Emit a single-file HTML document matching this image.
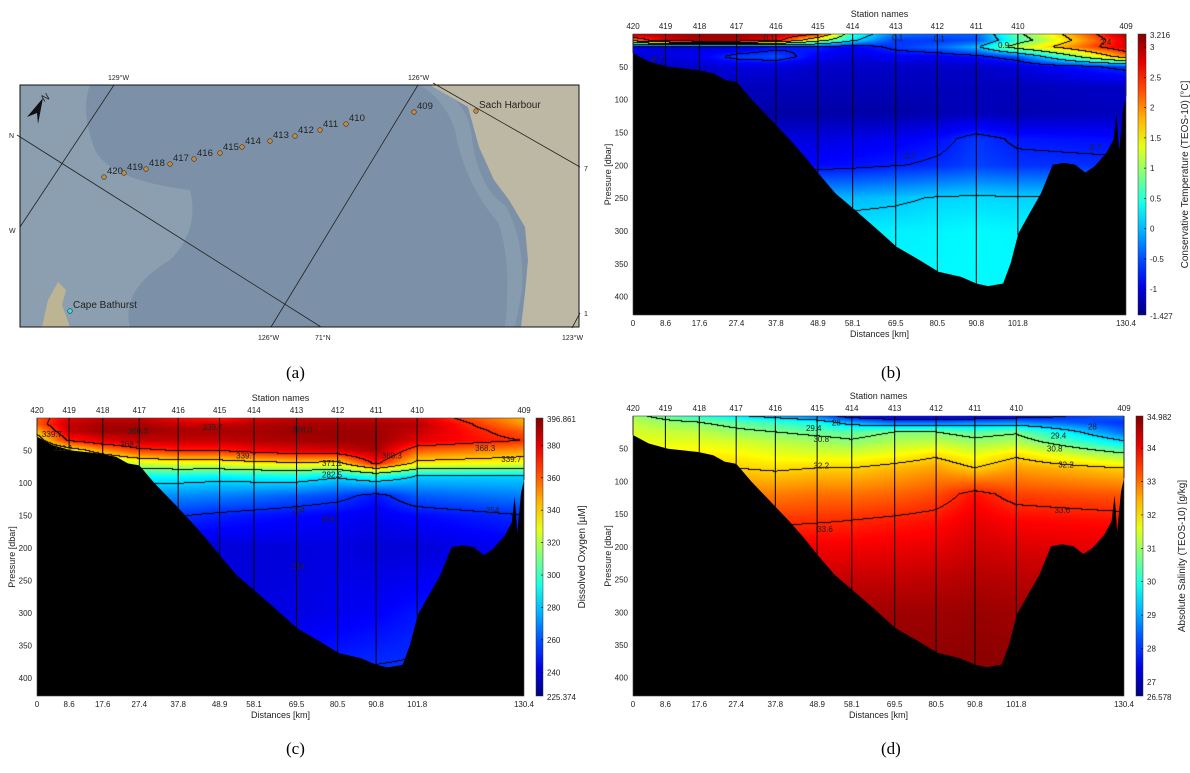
<!DOCTYPE html>
<html><head><meta charset="utf-8"><style>
html,body{margin:0;padding:0;background:#fff;width:1190px;height:773px;overflow:hidden;font-family:"Liberation Sans",sans-serif}
canvas{position:absolute}
#ov{position:absolute;left:0;top:0}
text{font-family:"Liberation Sans",sans-serif;fill:#222}
.pl{font-family:"Liberation Serif",serif;font-size:17px;fill:#000}
</style></head><body>
<canvas id="cb"></canvas>
<canvas id="cc"></canvas>
<canvas id="cd"></canvas>
<svg id="ov" width="1190" height="773" xmlns="http://www.w3.org/2000/svg">
<g id="map">
 <rect x="20" y="85" width="559" height="242" fill="#7c91a8"/>
 <path d="M20,85 L90,85 Q80,110 95,150 Q110,180 190,190 Q200,230 170,260 Q120,290 130,327 L20,327 Z" fill="#8ea3b2" opacity="0.8"/>
 <path d="M420,85 L430,85 Q470,100 472,140 Q480,190 505,205 Q525,240 522,290 L515,327 L505,327 Q512,260 498,222 Q465,185 455,130 Q445,100 420,85 Z" fill="#8b9fb0" opacity="0.8"/>
 <path d="M430,85 L579,85 L579,327 L521,327 L525,293 L528,260 L525,227 L509,200 L494,180 L479,147 L468,107 Z" fill="#bdb8a3"/>
 <path d="M42,327 L48,300 L58,282 L66,290 L62,305 L70,327 Z" fill="#bcb493"/>
 <g stroke="#222" stroke-width="0.8" fill="none">
  <line x1="114" y1="85" x2="20" y2="227"/><line x1="418" y1="85" x2="271" y2="327"/>
  <line x1="17" y1="135" x2="321" y2="327"/><line x1="433" y1="83" x2="580" y2="167"/>
  <line x1="580" y1="313" x2="572" y2="328"/>
 </g>
 <g font-size="7">
  <text x="108" y="80">129°W</text>
  <text x="408" y="80">126°W</text>
  <text x="258" y="340">126°W</text>
  <text x="315" y="340">71°N</text>
  <text x="562" y="340">123°W</text>
  <text x="9" y="138">N</text>
  <text x="9" y="233">W</text>
  <text x="584" y="171">7</text>
  <text x="584" y="316">1</text>
 </g>
 <rect x="20" y="85" width="559" height="242" fill="none" stroke="#111" stroke-width="1"/>
 <g><path d="M43,98 L27,117 L37,113 L38,124 Z" fill="#111"/><text x="42" y="101" font-size="10" transform="rotate(-30 45 98)">N</text></g>
 <g id="mapst"></g>
</g>
<g id="axes"></g>
<text class="pl" x="286" y="378">(a)</text>
<text class="pl" x="881" y="378">(b)</text>
<text class="pl" x="286" y="754">(c)</text>
<text class="pl" x="881" y="754">(d)</text>
</svg>
<script>
// ---- shared data ----
const stationNames=["420","419","418","417","416","415","414","413","412","411","410","409"];
const stationDist=[0,8.6,17.6,27.4,37.8,48.9,58.1,69.5,80.5,90.8,101.8,130.4];
const bathyKm=[0,4.2,9.3,17.3,21.3,24.4,27.4,31.4,37.4,41.5,45.5,49,53.6,58.1,63.7,69.7,75.7,80.8,86.8,90.8,93.9,97.9,99.9,101.9,104.9,107.9,111,114,117,119.6,122,125.1,127.1,127.9,128.6,129.6,130.4];
const bathyDepth=[29,42,50,55,60,70,73,100,136,161,187,212,243,265,293,324,344,362,370,380,384,380,349,304,273,243,199,196,199,211,202,182,161,121,177,116,95];
// temperature
const tDepths=[0,10,20,35,50,80,120,160,200,250,300,400];
const tVals=[
[3.0,3.0,3.1,3.1,3.0,2.5,0.5,-0.3,-0.4,-0.4,0.8,3.0],
[2.0,2.8,3.0,3.0,2.6,1.2,0.2,-0.6,-0.6,-0.5,0.6,2.8],
[-0.9,-1.0,-1.0,-1.0,-0.8,-0.7,-0.9,-0.6,-0.4,0.0,1.2,2.8],
[-1.0,-1.0,-0.9,-0.6,-0.5,-0.9,-1.0,-0.9,-0.9,-0.8,-0.5,2.0],
[-1.1,-1.1,-1.1,-1.0,-1.0,-1.1,-1.1,-1.1,-1.1,-1.1,-1.0,-0.6],
[-1.15,-1.15,-1.15,-1.15,-1.15,-1.15,-1.15,-1.15,-1.15,-1.15,-1.15,-1.1],
[-1.2,-1.2,-1.2,-1.2,-1.25,-1.25,-1.25,-1.25,-1.2,-1.15,-1.2,-1.15],
[-1.0,-1.0,-1.0,-1.0,-1.0,-1.0,-0.95,-0.9,-0.8,-0.6,-0.75,-0.8],
[-0.85,-0.85,-0.85,-0.85,-0.85,-0.82,-0.78,-0.72,-0.65,-0.55,-0.62,-0.65],
[0.0,0.0,0.0,0.0,0.0,0.0,0.0,0.05,0.12,0.15,0.12,0.1],
[0.25,0.25,0.25,0.25,0.25,0.25,0.25,0.25,0.27,0.3,0.28,0.25],
[0.3,0.3,0.3,0.3,0.3,0.3,0.3,0.3,0.3,0.3,0.3,0.3]];
const tLevels=[-0.7,0.1,0.9,1.7,2.4];
const tTicks=[-1,-0.5,0,0.5,1,1.5,2,2.5,3];
// oxygen
const oDepths=[0,10,20,35,50,70,90,120,150,200,300,400];
const oVals=[
[360,380,385,385,375,370,380,385,385,385,380,345],
[360,385,390,390,385,385,388,390,390,390,388,350],
[345,385,392,392,390,390,390,392,392,392,385,360],
[330,370,380,385,385,385,388,390,392,392,380,368],
[315,330,350,365,370,370,375,380,382,390,360,350],
[300,305,315,325,330,330,335,338,335,372,335,330],
[285,285,288,290,290,288,290,292,285,295,282,282],
[270,270,272,272,270,268,266,262,258,250,262,268],
[262,262,260,258,255,252,250,248,246,244,248,254],
[250,250,248,245,242,240,240,241,242,240,240,245],
[248,248,248,248,246,244,242,242,244,246,250,252],
[250,250,250,250,250,250,250,252,254,256,256,256]];
const oLevels=[254,282.5,311.1,339.7,368.3];
const oTicks=[240,260,280,300,320,340,360,380];
// salinity
const sDepths=[0,10,25,40,60,80,120,160,200,250,300,400];
const sVals=[
[31,30.5,30,29.5,29,28.5,27.5,27.2,27.2,27.2,27.5,28.5],
[31.3,31,30.8,30.5,30.2,29.8,29,28.5,28.5,28.7,28.8,28],
[31.5,31.4,31.3,31,30.8,30.6,30.5,30.8,30.8,30.5,30.7,28.5],
[31.7,31.6,31.6,31.5,31.3,31.1,30.9,31.2,31.3,31,31.2,29.5],
[32,32,32,31.9,31.7,31.6,31.6,31.8,32.1,31.7,32.1,31],
[32.4,32.4,32.3,32.2,32.1,32.2,32.2,32.4,32.6,32.2,32.6,32.2],
[33,33,33,32.9,32.9,33,33,33.1,33.3,33.8,33.4,33.2],
[33.5,33.5,33.5,33.5,33.5,33.55,33.6,33.7,33.8,34.1,33.9,33.8],
[34.0,34.0,34.0,34.0,34.0,34.0,34.0,34.05,34.1,34.3,34.2,34.1],
[34.4,34.4,34.4,34.4,34.4,34.4,34.4,34.4,34.45,34.55,34.5,34.4],
[34.7,34.7,34.7,34.7,34.7,34.7,34.7,34.7,34.7,34.75,34.7,34.7],
[34.9,34.9,34.9,34.9,34.9,34.9,34.9,34.9,34.9,34.9,34.9,34.9]];
const sLevels=[28,29.4,30.8,32.2,33.6];
const sTicks=[27,28,29,30,31,32,33,34];
const pTicks=[50,100,150,200,250,300,350,400];
// map stations
const mapNames=["420","419","418","417","416","415","414","413","412","411","410","409","Sach Harbour","Cape Bathurst"];
const mapX=[104,124,146,170,194,220,242,270,295,320,346,414,476,70];
const mapY=[177,173,169,164,159,153,147,141,136,130,124,112,111,311];

const NS="http://www.w3.org/2000/svg";
function mk(tag,attrs,parent,txt){const e=document.createElementNS(NS,tag);for(const k in attrs)e.setAttribute(k,attrs[k]);if(txt!==undefined)e.textContent=txt;parent.appendChild(e);return e;}
function jet(t){t=Math.max(0,Math.min(1,t));const c=v=>Math.round(255*Math.max(0,Math.min(1,v)));return [c(1.5-Math.abs(4*t-3)),c(1.5-Math.abs(4*t-2)),c(1.5-Math.abs(4*t-1))];}
function interp1(xs,ys,x){if(x<=xs[0])return ys[0];for(let i=1;i<xs.length;i++){if(x<=xs[i]){const f=(x-xs[i-1])/(xs[i]-xs[i-1]);return ys[i-1]+f*(ys[i]-ys[i-1]);}}return ys[ys.length-1];}

// map stations
const ms=document.getElementById('mapst');
mapNames.forEach((n,i)=>{
 const g=mk('g',{},ms);
 
 
 const col=n==="Cape Bathurst"?"#2fe0e0":"#c98a3a";
 mk('circle',{cx:mapX[i],cy:mapY[i],r:2.3,fill:col,stroke:"#333","stroke-width":0.6},g);
 mk('text',{x:mapX[i]+3,y:mapY[i]-3,"font-size":n.length>3?10:9.5,fill:"#111"},g,n);
});

const axes=document.getElementById('axes');
function panel(o){
 const W=o.R-o.L,H=o.B-o.T;
 const cv=document.getElementById(o.cid);
 cv.style.left=o.L+'px';cv.style.top=o.T+'px';cv.width=W;cv.height=H;
 const ctx=cv.getContext('2d');const img=ctx.createImageData(W,H);
 const V=new Float32Array(W*H);
 for(let x=0;x<W;x++){
  const km=(x+0.5)/W*130.4;
  const col=o.depths.map((d,r)=>interp1(stationDist,o.vals[r],km));
  for(let y=0;y<H;y++){const p=(y+0.5)/H*o.pmax;V[y*W+x]=interp1(o.depths,col,p);}
 }
 for(let y=0;y<H;y++)for(let x=0;x<W;x++){
  const v=V[y*W+x];let c=jet((v-o.vmin)/(o.vmax-o.vmin));
  let onC=false;
  for(const l of o.levels){const a=v-l;
   if(x+1<W&&a*(V[y*W+x+1]-l)<0)onC=true;
   if(y+1<H&&a*(V[(y+1)*W+x]-l)<0)onC=true;}
  if(onC)c=[0,0,0];
  const k=(y*W+x)*4;img.data[k]=c[0];img.data[k+1]=c[1];img.data[k+2]=c[2];img.data[k+3]=255;
 }
 ctx.putImageData(img,0,0);
 const g=mk('g',{},axes);
 
 
 const xs=km=>o.L+km/130.4*W, ys=p=>o.T+p/o.pmax*H;
 // seafloor
 let d='M'+xs(0)+','+o.B;
 bathyKm.forEach((k,i)=>{d+=' L'+xs(k).toFixed(1)+','+ys(bathyDepth[i]).toFixed(1);});
 d+=' L'+o.R+','+o.B+' Z';
 const sf=mk('path',{d:d,fill:"#000"},g);
 
 
 // station lines + labels
 stationDist.forEach((k,i)=>{
  const yb=ys(interp1(bathyKm,bathyDepth,k));
  const ln=mk('line',{x1:xs(k),y1:o.T,x2:xs(k),y2:yb,stroke:"#000","stroke-width":1},g);
  
  
  const sl=mk('text',{x:xs(k),y:o.T-5,"font-size":8,"text-anchor":"middle"},g,stationNames[i]);
  
  
  const dl=mk('text',{x:xs(k),y:o.B+11,"font-size":8,"text-anchor":"middle"},g,String(k));
  
  
 });
 const fr=mk('rect',{x:o.L,y:o.T,width:W,height:H,fill:"none",stroke:"#444","stroke-width":0.6},g);
 
 
 pTicks.forEach(p=>{
  const t=mk('text',{x:o.L-5,y:ys(p)+3,"font-size":8,"text-anchor":"end"},g,String(p));
  
  
 });
 const st=mk('text',{x:(o.L+o.R)/2,y:o.T-17,"font-size":9,"text-anchor":"middle"},g,"Station names");
 
 
 const xt=mk('text',{x:(o.L+o.R)/2,y:o.B+22,"font-size":9,"text-anchor":"middle"},g,"Distances [km]");
 
 
 const yt=mk('text',{x:0,y:0,"font-size":9,"text-anchor":"middle",transform:`translate(${o.L-22},${(o.T+o.B)/2}) rotate(-90)`},g,"Pressure [dbar]");
 
 
 // colorbar
 const gid='grad-'+o.name;
 const defs=mk('defs',{},g);const lg=mk('linearGradient',{id:gid,x1:0,y1:1,x2:0,y2:0},defs);
 for(let i=0;i<=10;i++){const c=jet(i/10);mk('stop',{offset:i/10,"stop-color":`rgb(${c})`},lg);}
 const cb=mk('rect',{x:o.cx,y:o.T,width:o.cw,height:H,fill:`url(#${gid})`,stroke:"#333","stroke-width":0.5},g);
 
 
 const cy=v=>o.B-(v-o.vmin)/(o.vmax-o.vmin)*H;
 o.ticks.forEach(v=>{
  mk('line',{x1:o.cx+o.cw-2,x2:o.cx+o.cw,y1:cy(v),y2:cy(v),stroke:"#000","stroke-width":0.6},g);
  const t=mk('text',{x:o.cx+o.cw+4,y:cy(v)+3,"font-size":8},g,String(v));
  
  
 });
 const tmax=mk('text',{x:o.cx+o.cw+4,y:o.T+4,"font-size":8},g,o.maxl);
 
 
 const tmin=mk('text',{x:o.cx+o.cw+4,y:o.B+4,"font-size":8},g,o.minl);
 
 
 const ct=mk('text',{x:0,y:0,"font-size":10,"text-anchor":"middle",transform:`translate(${o.cx+o.cw+42},${(o.T+o.B)/2}) rotate(-90)`},g,o.ctitle);
 
 
 // contour labels
 o.clab.forEach(c=>{
  const t=mk('text',{x:xs(c[0]),y:ys(c[1])+3,"font-size":8,"text-anchor":"middle",fill:"#000"},g,String(c[2]));
  
  
 });
}
panel({cid:'cb',name:'temperature',L:633,R:1126,T:34,B:315,pmax:428,cx:1138,cw:8,depths:tDepths,vals:tVals,vmin:-1.427,vmax:3.216,levels:tLevels,ticks:tTicks,maxl:"3.216",minl:"-1.427",ctitle:"Conservative Temperature (TEOS-10) [°C]",
 clab:[[36,5,"0.1"],[70,5,"0.1"],[81,7,"0.1"],[98,17,"0.9"],[125,12,"2.4"],[6,38,"-0.7"],[122,173,"-0.7"],[73,186,"-0.7"]]});
panel({cid:'cc',name:'oxygen',L:37,R:524,T:418,B:696,pmax:428,cx:536,cw:7,depths:oDepths,vals:oVals,vmin:225.374,vmax:396.861,levels:oLevels,ticks:oTicks,maxl:"396.861",minl:"225.374",ctitle:"Dissolved Oxygen [µM]",
 clab:[[27,20,"368.3"],[47,14,"339.7"],[71,18,"368.3"],[25,40,"368.3"],[56,58,"339.7"],[79,69,"371.1"],[79,87,"282.5"],[95,58,"368.3"],[120,46,"368.3"],[127,63,"339.7"],[70,142,"254"],[122,142,"254"],[78,155,"254"],[70,228,"254"],[7,46,"311.1"],[4,25,"339.7"]]});
panel({cid:'cd',name:'salinity',L:633,R:1124,T:416,B:696,pmax:428,cx:1136,cw:7,depths:sDepths,vals:sVals,vmin:26.578,vmax:34.962,levels:sLevels,ticks:sTicks,maxl:"34.982",minl:"26.578",ctitle:"Absolute Salinity (TEOS-10) [g/kg]",
 clab:[[54,10,"28"],[122,16,"28"],[48,18,"29.4"],[113,30,"29.4"],[50,35,"30.8"],[112,50,"30.8"],[50,76,"32.2"],[115,74,"32.2"],[51,173,"33.6"],[114,144,"33.6"]]});
</script>
</body></html>
